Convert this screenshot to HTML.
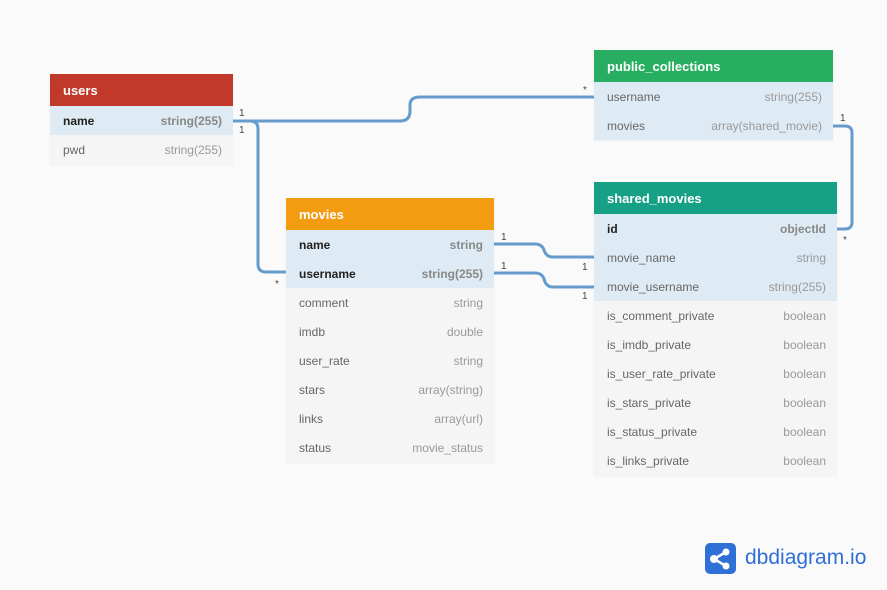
<!DOCTYPE html>
<html><head><meta charset="utf-8"><style>
body{margin:0;width:887px;height:590px;background:#fafafa;font-family:"Liberation Sans",sans-serif;position:relative;overflow:hidden}
.t{position:absolute;box-shadow:0 1px 2px rgba(0,0,0,0.05)}
.h{height:31px;padding-top:1px;line-height:32px;color:#fff;font-weight:bold;font-size:13px;padding-left:13px}
.r{height:28px;padding-top:1px;line-height:29px;font-size:12px;color:#666;padding-right:11px;padding-left:13px;display:flex;justify-content:space-between;background:#f5f5f5}
.r span:last-child{color:#999}
.r.b{background:#deebf4}
.r.k{font-weight:bold;color:#222}
.r.k span:last-child{color:#888}
svg{position:absolute;left:0;top:0}
.l{font-size:10px;fill:#444;font-family:"Liberation Sans",sans-serif}
</style></head><body>
<svg width="887" height="590">
<g fill="none" stroke="#669ccc" stroke-width="3">
<path d="M233 121 H400 Q410 121 410 111 V105 Q410 97 420 97 H594"/>
<path d="M233 121 H250 Q258 121 258 129 V264 Q258 272 266 272 H286"/>
<path d="M494 244 H535 Q542 244 544 250 Q546 257 553 257 H594"/>
<path d="M494 273 H535 Q542 273 544 279 Q546 287 553 287 H594"/>
<path d="M833 126 H845 Q852 126 852 133 V222 Q852 229 845 229 H837"/>
</g>
<text class="l" x="239" y="116">1</text><text class="l" x="239" y="133">1</text>
<text class="l" x="583" y="93">*</text>
<text class="l" x="275" y="287">*</text>
<text class="l" x="501" y="240">1</text><text class="l" x="501" y="269">1</text>
<text class="l" x="582" y="270">1</text><text class="l" x="582" y="299">1</text>
<text class="l" x="840" y="121">1</text><text class="l" x="843" y="243">*</text>
</svg>
<div class="t" style="left:50px;top:74px;width:183px">
<div class="h" style="background:#c0392b">users</div>
<div class="r b k"><span>name</span><span>string(255)</span></div>
<div class="r"><span>pwd</span><span>string(255)</span></div>
</div>
<div class="t" style="left:594px;top:50px;width:239px">
<div class="h" style="background:#27ae60">public_collections</div>
<div class="r b"><span>username</span><span>string(255)</span></div>
<div class="r b"><span>movies</span><span>array(shared_movie)</span></div>
</div>
<div class="t" style="left:286px;top:198px;width:208px">
<div class="h" style="background:#f39c12">movies</div>
<div class="r b k"><span>name</span><span>string</span></div>
<div class="r b k"><span>username</span><span>string(255)</span></div>
<div class="r"><span>comment</span><span>string</span></div>
<div class="r"><span>imdb</span><span>double</span></div>
<div class="r"><span>user_rate</span><span>string</span></div>
<div class="r"><span>stars</span><span>array(string)</span></div>
<div class="r"><span>links</span><span>array(url)</span></div>
<div class="r"><span>status</span><span>movie_status</span></div>
</div>
<div class="t" style="left:594px;top:182px;width:243px">
<div class="h" style="background:#16a085">shared_movies</div>
<div class="r b k"><span>id</span><span>objectId</span></div>
<div class="r b"><span>movie_name</span><span>string</span></div>
<div class="r b"><span>movie_username</span><span>string(255)</span></div>
<div class="r"><span>is_comment_private</span><span>boolean</span></div>
<div class="r"><span>is_imdb_private</span><span>boolean</span></div>
<div class="r"><span>is_user_rate_private</span><span>boolean</span></div>
<div class="r"><span>is_stars_private</span><span>boolean</span></div>
<div class="r"><span>is_status_private</span><span>boolean</span></div>
<div class="r"><span>is_links_private</span><span>boolean</span></div>
</div>
<div style="position:absolute;left:705px;top:543px;width:31px;height:31px;border-radius:5px;background:#2f6fd6">
<svg width="31" height="31"><g stroke="#fff" stroke-width="2.5"><line x1="9" y1="16" x2="21" y2="9"/><line x1="9" y1="16" x2="21" y2="23"/></g><g fill="#fff"><circle cx="9" cy="16" r="4"/><circle cx="21" cy="9" r="3.5"/><circle cx="21" cy="23" r="3.5"/></g></svg>
</div>
<div style="position:absolute;left:745px;top:544px;font-size:21px;color:#2f6fd6;line-height:28px">dbdiagram.io</div>
</body></html>
